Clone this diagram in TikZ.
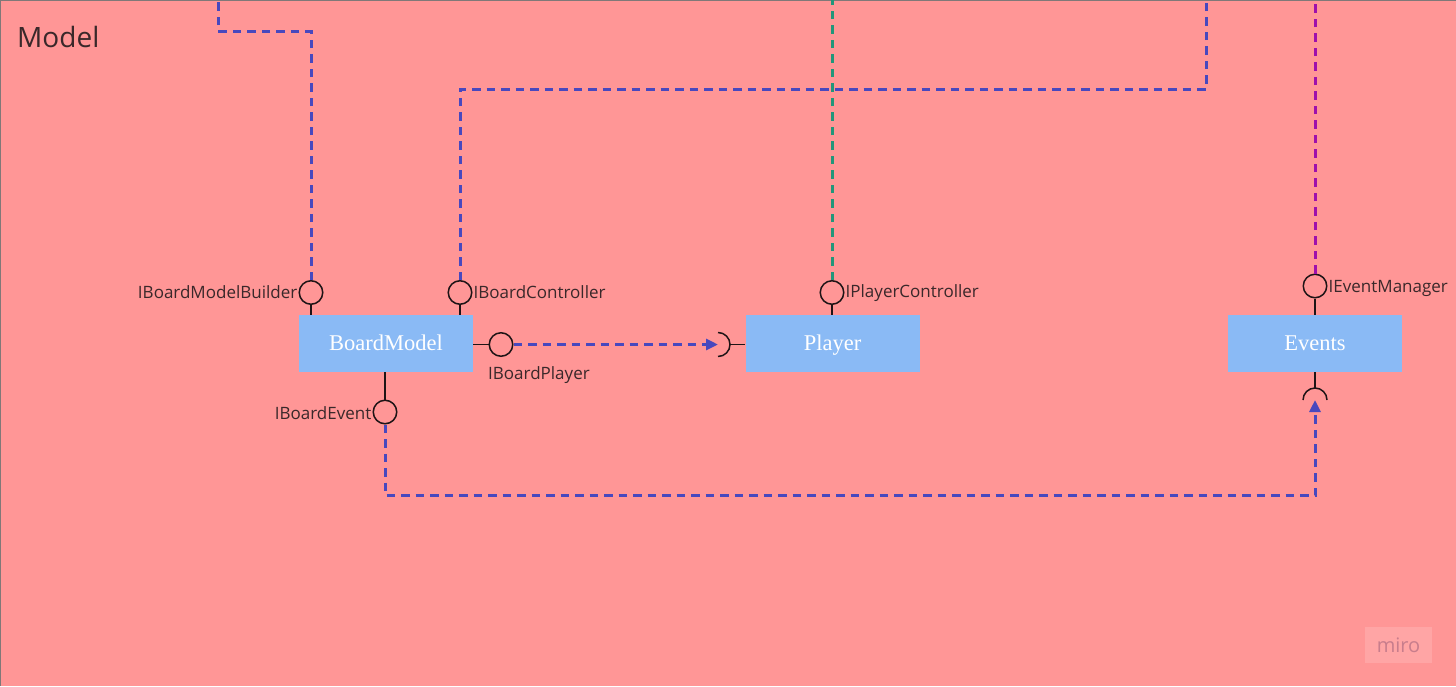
\documentclass[tikz,border=0pt]{standalone}
\usepackage{fontspec}
\newfontfamily\labfont{Open Sans}
\newfontfamily\serfont{Liberation Serif}
\usetikzlibrary{arrows.meta}
\definecolor{bgpink}{RGB}{255,150,150}
\definecolor{boxblue}{RGB}{138,186,245}
\definecolor{dblue}{RGB}{72,72,190}
\definecolor{dgreen}{RGB}{34,150,122}
\definecolor{dmag}{RGB}{158,16,172}
\definecolor{txt}{RGB}{58,40,42}
\definecolor{linec}{RGB}{30,20,22}
\definecolor{framegray}{RGB}{128,120,120}
\definecolor{mirobg}{RGB}{255,165,165}
\definecolor{mirotxt}{RGB}{200,125,140}
\tikzset{
  comp/.style={fill=boxblue, draw=none, minimum width=174pt, minimum height=57pt, inner sep=0pt,
    text height=18.5pt, text depth=4pt,
    text=white, font=\serfont\fontsize{22.5}{25}\selectfont},
  lolli/.style={circle, draw=linec, line width=1.5pt, minimum size=23.5pt, inner sep=0pt},
  stub/.style={draw=linec, line width=1.5pt},
  lab/.style={text=txt, font=\labfont\fontsize{17}{20}\selectfont, inner sep=1pt},
  dsh/.style={line width=3pt, dash pattern=on 8.5pt off 6pt},
  tip/.style={-{Triangle[length=12pt,width=11pt]}}
}
\begin{document}
\begin{tikzpicture}[x=1pt,y=1pt]
\useasboundingbox (0,0) rectangle (1456,-686);
\fill[bgpink] (0,0) rectangle (1456,-686);
\draw[framegray, line width=2pt] (0,0) -- (1456,0);
\draw[framegray, line width=1.2pt] (0.6,0) -- (0.6,-686);

\node[text=txt, font=\labfont\fontsize{28}{31}\selectfont, anchor=west, inner sep=0pt] (title) at (17,-37) {Model};

% components
\node[comp] (bm) at (386,-343.5) {BoardModel};
\node[comp] (pl) at (832.5,-343.5) {Player};
\node[comp] (ev) at (1315,-343.5) {Events};

% lollipops
\node[lolli] (cB) at (311,-292.5) {};
\node[lolli] (cC) at (460,-292.5) {};
\node[lolli] (cP) at (832,-292.5) {};
\node[lolli] (cE) at (1315,-286) {};
\node[lolli] (cBP) at (501,-344.5) {};
\node[lolli] (cBE) at (385,-412) {};

\draw[stub] (cB.south) -- (cB.south |- bm.north);
\draw[stub] (cC.south) -- (cC.south |- bm.north);
\draw[stub] (cP.south) -- (cP.south |- pl.north);
\draw[stub] (cE.south) -- (cE.south |- ev.north);
\draw[stub] (bm.east |- cBP.west) -- (cBP.west);
\draw[stub] (cBE.north) -- (cBE.north |- bm.south);

% labels
\node[lab, anchor=east] (lB) at (cB.west) {IBoardModelBuilder};
\node[lab, anchor=west] (lC) at (cC.east) {IBoardController};
\node[lab, anchor=west] (lP) at ([yshift=-1pt]cP.east) {IPlayerController};
\node[lab, anchor=west] (lE) at ([yshift=-2pt]cE.east) {IEventManager};
\node[lab, anchor=west] (lBP) at (487,-375) {IBoardPlayer};
\node[lab, anchor=east] (lBE) at ([yshift=-1pt]cBE.west) {IBoardEvent};

% sockets
\coordinate (sP) at (718,-344.5);
\coordinate (sE) at (1315,-400);
\draw[stub] (730,-344.5) -- (pl.west |- sP);
\draw[stub] ([shift={(0,-12)}]sP) arc[start angle=-90, end angle=90, radius=12];
\draw[stub] (1315,-388) -- (ev.south);
\draw[stub] ([shift={(-12,0)}]sE) arc[start angle=180, end angle=0, radius=12];

% free ends at the top
\coordinate (tB) at (218,0);
\coordinate (tC) at (1206,0);
\coordinate (tP) at (832,0);
\coordinate (tE) at (1315,0);

% dashed connectors
\draw[dsh, dblue] (cB.north) -- (311,-31) -- (218,-31) -- (tB);
\draw[dsh, dblue] (cC.north) -- (460,-89) -- (1206,-89) -- (tC);
\draw[dsh, dgreen] (cP.north) -- (tP);
\draw[dsh, dmag] (cE.north) -- (tE);
\draw[dsh, dblue, tip] (cBP.east) -- (sP);
\draw[dsh, dblue, tip] (cBE.south) -- (385,-495.5) -- (1315,-495.5) -- (sE);

% watermark
\node[fill=mirobg, minimum width=67pt, minimum height=36pt, inner sep=0pt,
  text=mirotxt, font=\labfont\fontsize{20}{22}\selectfont] (miro) at (1398.5,-645) {miro};
\end{tikzpicture}
\end{document}
